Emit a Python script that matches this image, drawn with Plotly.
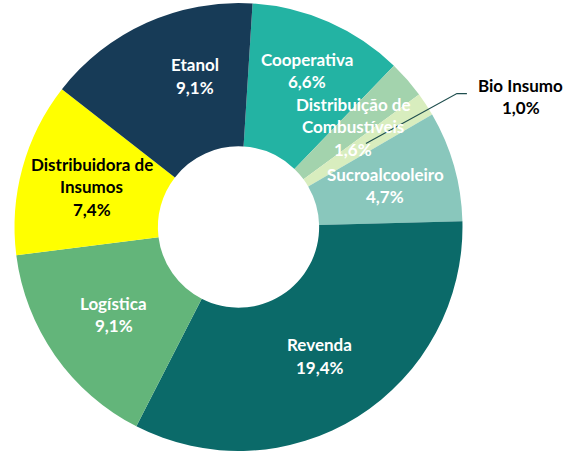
import numpy as np
import plotly.graph_objects as go

# ---- data ----
categories = ["Cooperativa", "Distribuição de Combustíveis", "Bio Insumo", "Sucroalcooleiro",
              "Revenda", "Logística", "Distribuidora de Insumos", "Etanol"]
values = [6.6, 1.6, 1.0, 4.7, 19.4, 9.1, 7.4, 9.1]
label_lines = [["Cooperativa"], ["Distribuição de", "Combustíveis"], ["Bio Insumo"], ["Sucroalcooleiro"],
               ["Revenda"], ["Logística"], ["Distribuidora de", "Insumos"], ["Etanol"]]

# ---- style ----
colors = ["#23B3A3", "#A3D3AD", "#D8EDBE", "#89C7BC", "#0B6A69", "#63B57A", "#FFFF00", "#173B57"]
text_colors = ["white", "white", "black", "white", "white", "white", "black", "white"]
# extra pixel offsets for manually placed labels (dx, dy-down)
label_offsets = [(7, -17), (0, 0), (155, -47), (0, 0), (0, 0), (0, 0), (0, 0), (19, -12)]

W, H = 569, 451
rotation = 3.6
hole = 0.36
dom_x = [0.0246, 0.8137]
dom_y = [0.0, 0.9933]

fig = go.Figure(go.Pie(
    labels=categories, values=values, sort=False, direction="clockwise",
    rotation=rotation, hole=hole, textinfo="none", hoverinfo="label+value",
    marker=dict(colors=colors, line=dict(width=0)),
    domain=dict(x=dom_x, y=dom_y), showlegend=False,
))

# geometry of the pie in pixels (same as plotly's layout of the domain)
dw = (dom_x[1] - dom_x[0]) * W
dh = (dom_y[1] - dom_y[0]) * H
R = min(dw, dh) / 2
cx = (dom_x[0] + dom_x[1]) / 2 * W
cy = H - (dom_y[0] + dom_y[1]) / 2 * H
rmid = (R + R * hole) / 2

vals = np.array(values)
cum = np.cumsum(vals) - vals / 2
mid_angles = np.deg2rad(rotation + cum / vals.sum() * 360)

font_family = "Lato, Carlito, Calibri, sans-serif"
fsize = 17
spacing = 22.5

for i, v in enumerate(values):
    ax = cx + rmid * np.sin(mid_angles[i])
    ay = cy - rmid * np.cos(mid_angles[i])
    dx, dy = label_offsets[i]
    lines = label_lines[i] + [f"{v:.1f}%".replace(".", ",")]
    n = len(lines)
    for j, ln in enumerate(lines):
        px = ax + dx
        py = ay + dy + (j - (n - 1) / 2) * spacing
        fig.add_annotation(x=px / W, y=1 - py / H, xref="paper", yref="paper",
                           text=f"<b>{ln}</b>", showarrow=False,
                           font=dict(family=font_family, size=fsize, color=text_colors[i]),
                           xanchor="center", yanchor="middle")
    if dx > 50:
        # leader line for the label placed outside
        ex, ey = ax + dx - 64, ay + dy - 3
        fx = ex + 10
        path = (f"M {ax / W},{1 - ay / H} L {ex / W},{1 - ey / H} L {fx / W},{1 - ey / H}")
        fig.add_shape(type="path", path=path, xref="paper", yref="paper",
                      line=dict(color="#1F4E4E", width=1.2))

fig.update_layout(width=W, height=H, margin=dict(l=0, r=0, t=0, b=0),
                  paper_bgcolor="white", plot_bgcolor="white")
fig.write_html("out.html", config={"displayModeBar": False},
               post_script="document.body.style.margin='0px';document.body.style.overflow='hidden';")
